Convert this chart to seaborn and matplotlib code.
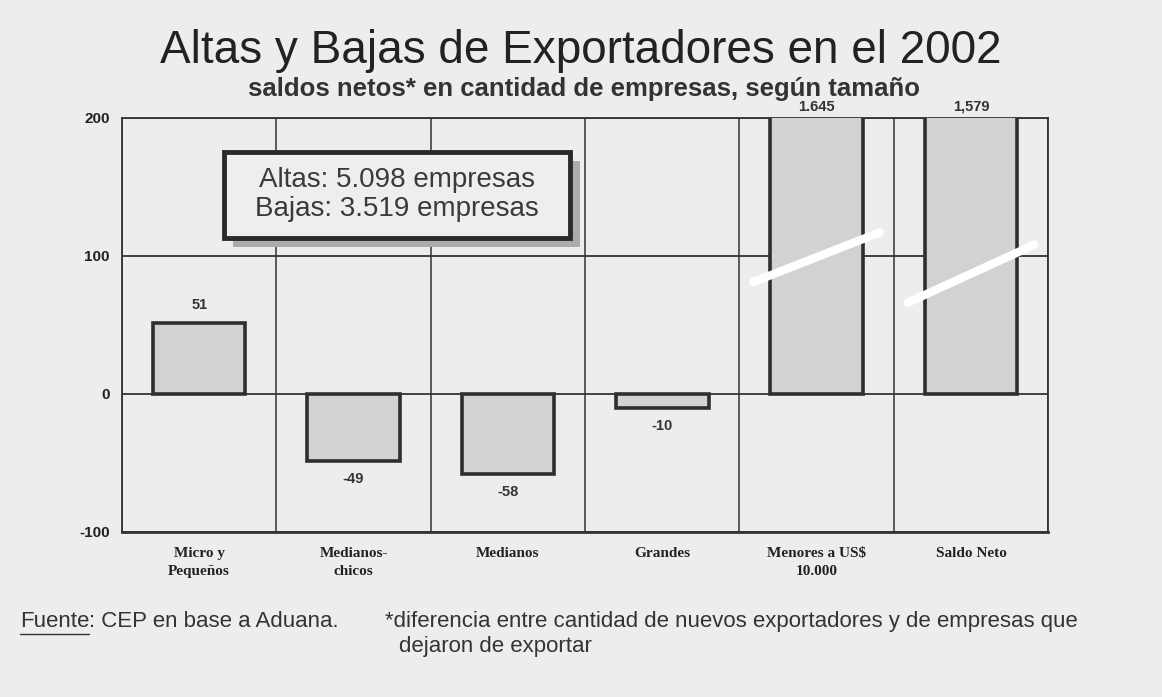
import numpy as np
import pandas as pd
import matplotlib
matplotlib.use('Agg')
import matplotlib.pyplot as plt
from matplotlib.patches import Rectangle
from matplotlib.lines import Line2D
import seaborn as sns

# datos
categorias = ['Micro y\nPequeños', 'Medianos-\nchicos', 'Medianos', 'Grandes',
              'Menores a US$\n10.000', 'Saldo Neto']
saldos = [51, -49, -58, -10, 1645, 1579]
etiquetas = ['51', '-49', '-58', '-10', '1.645', '1,579']
cortados = [False, False, False, False, True, True]
yticks = [-100, 0, 100, 200]

BG = '#ededed'
BAR = '#d2d2d2'
EDGE = '#2e2e2e'

sns.set_style('white')
plt.rcParams['font.family'] = ['Liberation Sans', 'DejaVu Sans']

fig = plt.figure(figsize=(11.62, 6.97), dpi=100, facecolor=BG)
ax = fig.add_axes([0.105, 0.237, 0.797, 0.594])
ax.set_facecolor(BG)

df = pd.DataFrame({'cat': categorias, 'valor': saldos})
sns.barplot(data=df, x='cat', y='valor', color=BAR, edgecolor=EDGE,
            linewidth=2.6, width=0.6, saturation=1, ax=ax, zorder=3)

ax.set_ylim(-100, 200)
ax.set_xlim(-0.5, len(categorias) - 0.5)
ax.set_yticks(yticks)
ax.set_yticklabels([str(t) for t in yticks], fontsize=11, fontweight='bold',
                   color='#222222')
ax.set_xticks(range(len(categorias)))
ax.set_xticklabels(categorias, fontsize=11, fontweight='bold',
                   family=['Liberation Serif', 'DejaVu Serif'], color='#222222',
                   linespacing=1.5)
ax.tick_params(axis='y', length=5, width=1.2, color='#333333', pad=4, direction='out')
ax.tick_params(axis='x', length=0, pad=11)
ax.set_xlabel('')
ax.set_ylabel('')

# cuadrícula
for y in yticks:
    ax.axhline(y, color='#333333', lw=1.3, zorder=1)
for x in np.arange(-0.5, len(categorias), 1.0):
    ax.axvline(x, color='#333333', lw=1.1, zorder=1)
for s in ax.spines.values():
    s.set_color('#333333')
    s.set_linewidth(1.3)
ax.spines['bottom'].set_linewidth(2.0)

# etiquetas de valores
for i, (v, lab, cut) in enumerate(zip(saldos, etiquetas, cortados)):
    if cut:
        ax.text(i, 203, lab, ha='center', va='bottom', fontsize=10.5,
                fontweight='bold', color='#333333')
        # marca de corte del eje
        ax.plot([i - 0.41, i + 0.41], [81 - 15 * (i - 4), 117 - 9 * (i - 4)],
                color='white', lw=6, solid_capstyle='round', zorder=5,
                clip_on=False)
    elif v >= 0:
        ax.text(i, v + 8, lab, ha='center', va='bottom', fontsize=10.5,
                fontweight='bold', color='#333333')
    else:
        ax.text(i, v - 8, lab, ha='center', va='top', fontsize=10.5,
                fontweight='bold', color='#333333')

# recuadro de altas y bajas (con sombra)
ax.add_patch(Rectangle((0.120, 0.688), 0.374, 0.208, transform=ax.transAxes,
                       fc='#ababab', ec='none', zorder=6))
ax.add_patch(Rectangle((0.110, 0.710), 0.374, 0.208, transform=ax.transAxes,
                       fc='#eeeeee', ec='#2a2a2a', lw=3.5, zorder=7))
ax.text(0.297, 0.814, 'Altas: 5.098 empresas\nBajas: 3.519 empresas',
        transform=ax.transAxes, fontsize=20, color='#3a3a3a', ha='center',
        va='center', linespacing=1.15, zorder=8)

# títulos
fig.text(0.5, 0.927, 'Altas y Bajas de Exportadores en el 2002', ha='center',
         va='center', fontsize=33, color='#222222')
fig.text(0.503, 0.873, 'saldos netos* en cantidad de empresas, según tamaño',
         ha='center', va='center', fontsize=18.5, fontweight='bold', color='#333333')

# pie
fs = 16
t = fig.text(0.017, 0.100, 'Fuente', fontsize=fs, color='#333333')
fig.canvas.draw()
bb = t.get_window_extent().transformed(fig.transFigure.inverted())
fig.add_artist(Line2D([bb.x0, bb.x1], [bb.y0 - 0.002, bb.y0 - 0.002],
                      transform=fig.transFigure, color='#333333', lw=1))
fig.text(bb.x1, 0.100, ': CEP en base a Aduana.', fontsize=fs, color='#333333')
fig.text(0.331, 0.100, '*diferencia entre cantidad de nuevos exportadores y de empresas que',
         fontsize=fs, color='#333333')
fig.text(0.343, 0.064, 'dejaron de exportar', fontsize=fs, color='#333333')

fig.savefig('out.png', dpi=100, facecolor=BG)
